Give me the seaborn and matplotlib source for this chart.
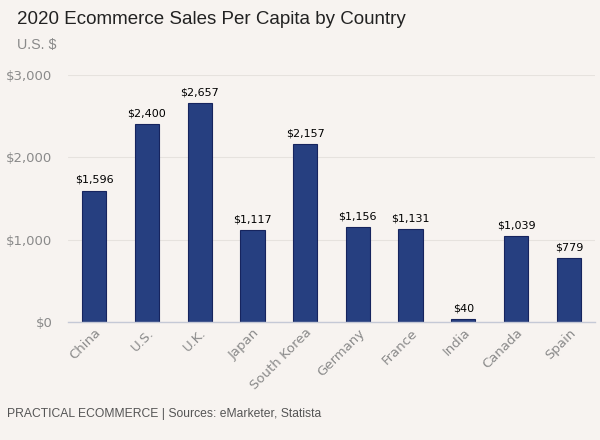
import matplotlib
matplotlib.use("Agg")
import matplotlib.pyplot as plt
import seaborn as sns
import pandas as pd

countries = ["China", "U.S.", "U.K.", "Japan", "South Korea", "Germany", "France", "India", "Canada", "Spain"]
sales = [1596, 2400, 2657, 1117, 2157, 1156, 1131, 40, 1039, 779]
yticks = [0, 1000, 2000, 3000]
ytick_labels = ["$0", "$1,000", "$2,000", "$3,000"]

bg = "#f7f3f0"
sns.set_theme(style="white")
plt.rcParams["font.family"] = ["DejaVu Sans"]

df = pd.DataFrame({"country": countries, "sales": sales})

fig = plt.figure(figsize=(6, 4.4), dpi=100, facecolor=bg)
ax = fig.add_axes([0.113, 0.268, 0.879, 0.562], facecolor=bg)

sns.barplot(data=df, x="country", y="sales", ax=ax, color="#263f80",
            width=0.46, edgecolor="#16245e", linewidth=0.8, saturation=1)

ax.set_ylim(0, 3000)
ax.set_xlim(-0.5, len(countries) - 0.5)
ax.set_yticks(yticks)
ax.set_yticklabels(ytick_labels, color="#8a8a8a", fontsize=9.5)
ax.tick_params(axis="y", length=0, pad=11)
ax.tick_params(axis="x", length=0, pad=3)
for lbl in ax.get_xticklabels():
    lbl.set_rotation(45)
    lbl.set_ha("right")
    lbl.set_rotation_mode("anchor")
    lbl.set_color("#8a8a8a")
    lbl.set_fontsize(9.5)
ax.set_xlabel("")
ax.set_ylabel("")
ax.grid(axis="y", color="#e6e2de", linewidth=0.8)
ax.set_axisbelow(True)
for s in ["top", "right", "left"]:
    ax.spines[s].set_visible(False)
ax.spines["bottom"].set_color("#c5c9d6")
ax.spines["bottom"].set_linewidth(1)

for container in ax.containers:
    ax.bar_label(container, labels=[f"${v:,}" for v in sales], padding=4,
                 fontsize=8, color="#000000")

fig.text(0.028, 0.955, "2020 Ecommerce Sales Per Capita by Country", fontsize=13.5,
         color="#222222", va="center", ha="left", family=["Liberation Sans", "DejaVu Sans"])
fig.text(0.028, 0.898, "U.S. $", fontsize=10.3, color="#8a8a8a", va="center", ha="left",
         family=["Liberation Sans", "DejaVu Sans"])
fig.text(0.012, 0.06, "PRACTICAL ECOMMERCE | Sources: eMarketer, Statista", fontsize=8.7,
         color="#555555", va="center", ha="left", family=["Liberation Sans", "DejaVu Sans"])

fig.savefig("out.png", dpi=100, facecolor=bg)
